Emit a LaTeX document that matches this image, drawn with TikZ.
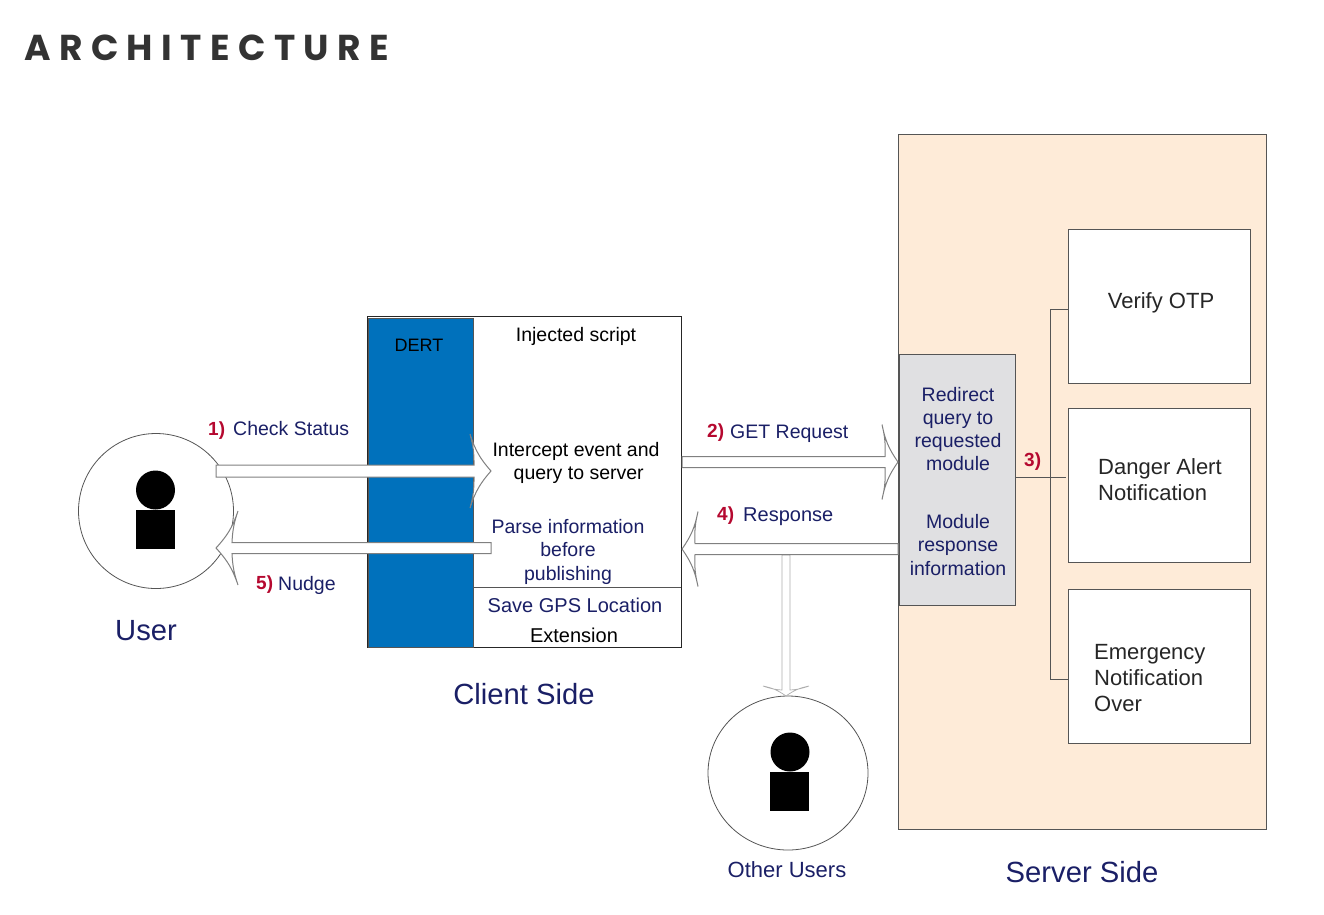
\documentclass[tikz,border=0pt]{standalone}
\usepackage{fontspec}
\setmainfont{Liberation Sans}
\newfontfamily\titlefont[LetterSpace=23.4,BoldFont=* Bold]{Poppins}
\usetikzlibrary{calc,shapes.geometric}
\definecolor{navy}{HTML}{1A1F66}
\definecolor{crimson}{HTML}{B5082F}
\definecolor{serverbg}{HTML}{FEEBD8}
\definecolor{modgray}{HTML}{E0E0E2}
\definecolor{dertblue}{HTML}{0071BC}
\definecolor{edgegray}{HTML}{555555}
\definecolor{arrowedge}{HTML}{808080}
\tikzset{
  lbl/.style={font=\fontsize{19.5}{23}\selectfont,text=navy,inner sep=0pt,align=center},
  lblk/.style={lbl,text=black},
  lblleft/.style={font=\fontsize{22}{26}\selectfont,text=black!85,inner sep=0pt,align=left},
  num/.style={font=\bfseries\fontsize{19}{22}\selectfont,text=crimson,inner sep=0pt},
  captxt/.style={font=\fontsize{29.2}{34}\selectfont,text=navy,inner sep=0pt},
  panel/.style={draw=edgegray,line width=0.8pt,inner sep=0pt,outer sep=0pt},
  person/.style={draw=edgegray,line width=0.8pt,fill=white,inner sep=0pt},
  figpart/.style={fill=black,inner sep=0pt,outer sep=0pt},
  bus/.style={draw=edgegray,line width=0.7pt},
  blockarrow/.style={draw=arrowedge,fill=white,line width=1pt,line join=miter},
}
% #1 extra options, #2 start, #3 tip, #4 half shaft, #5 shaft-end set-back, #6 barb set-back, #7 barb half width
\newcommand{\blockarr}[7][]{%
  \coordinate (sa) at ($(#2)!#4pt!90:(#3)$);
  \coordinate (sb) at ($(#2)!#4pt!-90:(#3)$);
  \coordinate (ea) at ($(#3)!#5pt!(#2)!#4pt!90:(#3)$);
  \coordinate (eb) at ($(#3)!#5pt!(#2)!#4pt!-90:(#3)$);
  \coordinate (ba) at ($(#3)!#6pt!(#2)!#7pt!90:(#3)$);
  \coordinate (bb) at ($(#3)!#6pt!(#2)!#7pt!-90:(#3)$);
  \draw[blockarrow,#1] (sa) -- (ea) to[bend right=8] (ba) to[bend right=12] (#3)
     to[bend right=12] (bb) to[bend right=8] (eb) -- (sb) -- cycle;
}
\begin{document}
\begin{tikzpicture}[x=1pt,y=-1pt]
\useasboundingbox (0,0) rectangle (1324,914);
\node[anchor=west,inner sep=0pt,text=black!80,font=\titlefont\bfseries\fontsize{36}{40}\selectfont] (title) at (24,47.5) {ARCHITECTURE};

% server
\node[panel,fill=serverbg,minimum width=368pt,minimum height=695pt] (server) at (1082,482.2) {};
\node[panel,fill=white,minimum width=182pt,minimum height=153.5pt] (otp) at (1159,306.5) {};
\node[panel,fill=white,minimum width=182pt,minimum height=153.5pt] (danger) at (1159,485.5) {};
\node[panel,fill=white,minimum width=182pt,minimum height=153.5pt] (emerg) at (1159,666.5) {};
\node[panel,fill=modgray,minimum width=116pt,minimum height=251pt] (module) at (957.5,479.5) {};
\coordinate (hub) at (1050,477);
\coordinate (hubend) at (1066,477);
\draw[bus] (module.east |- hub) -- (hubend);
\draw[bus] (otp.west |- 0,309) -- (1050,309) -- (1050,679) -- (emerg.west |- 0,679);

% client
\node[panel,fill=white,draw=black!85,line width=1pt,minimum width=314pt,minimum height=331pt] (client) at (524,482.3) {};
\node[fill=dertblue,draw=edgegray,line width=0.5pt,inner sep=0pt,minimum width=105pt,minimum height=329pt] (dert) at (421,482.3) {};
\draw[bus] (dert.east |- 0,587) -- (client.east |- 0,587);

% people
\node[person,circle,minimum size=155pt] (user) at (156,511) {};
\node[figpart,circle,minimum size=39pt] (userhead) at (155.5,490) {};
\node[figpart,minimum size=39pt] (userbody) at (155.5,529.5) {};
\node[person,ellipse,minimum width=160pt,minimum height=154pt] (other) at (788,773) {};
\node[figpart,circle,minimum size=39pt] (otherhead) at (790,752) {};
\node[figpart,minimum size=39pt] (otherbody) at (789.5,791) {};

% arrows
\coordinate (a1s) at (216,471);  \coordinate (a1t) at (491,471);
\coordinate (a5s) at (491,548);  \coordinate (a5t) at (216,548);
\coordinate (a2s) at (682,462);  \coordinate (a2t) at (898,462);
\coordinate (a4s) at (898,549);  \coordinate (a4t) at (682,549);
\coordinate (a6s) at (786,555);  \coordinate (a6t) at (786,696);
\blockarr[draw=black!32,line width=0.7pt]{a6s}{a6t}{4}{6}{10}{23}
\blockarr{a1s}{a1t}{6}{17}{21}{37}
\blockarr{a5s}{a5t}{5.5}{16}{22}{37}
\blockarr{a2s}{a2t}{5.5}{13}{16}{37.5}
\blockarr{a4s}{a4t}{5.5}{13}{16}{37.5}

% texts
\node[font=\fontsize{18}{21}\selectfont,text=black,inner sep=0pt] (tdert) at (419,345) {DERT};
\node[lblk] (tinj) at (576,336) {Injected script};
\node[lblk,font=\fontsize{19.5}{23.5}\selectfont] (tint) at (576,463) {Intercept event and\\\ query to server};
\node[lbl,font=\fontsize{19.5}{23.5}\selectfont] (tparse) at (568,551.5) {Parse information\\before\\publishing};
\node[lbl,font=\fontsize{20}{23}\selectfont] (tsave) at (575,605) {Save GPS Location};
\node[lblk,font=\fontsize{20}{23}\selectfont] (textn) at (574,635) {Extension};
\node[lbl,font=\fontsize{19.5}{23}\selectfont] (tred) at (958,429) {Redirect\\query to\\requested\\module};
\node[lbl,font=\fontsize{19.5}{23.5}\selectfont] (tmod) at (958,545) {Module\\response\\information};
\node[lblleft] (totp) at (1161,303) {Verify OTP};
\node[lblleft,anchor=west] (tdan) at (1098,480) {Danger Alert\\Notification};
\node[lblleft,anchor=west] (tem) at (1094,678) {Emergency\\Notification\\Over};
\node[num,anchor=west] (n1) at (208,431) {1)};
\node[lbl,anchor=west] (l1) at (233,429) {Check Status};
\node[num,anchor=west] (n2) at (707,433) {2)};
\node[lbl,anchor=west] (l2) at (730,434) {GET Request};
\node[num,anchor=west] (n3) at (1024,462) {3)};
\node[num,anchor=west] (n4) at (717,516) {4)};
\node[lbl,anchor=west,font=\fontsize{20}{23}\selectfont] (l4) at (743,517) {Response};
\node[num,anchor=west] (n5) at (256,585) {5)};
\node[lbl,anchor=west] (l5) at (278,585) {Nudge};
\node[captxt] (cuser) at (146,631) {User};
\node[captxt] (cclient) at (524,694) {Client Side};
\node[captxt] (cserver) at (1082,872) {Server Side};
\node[lbl,font=\fontsize{22}{24}\selectfont] (cother) at (787,870) {Other Users};
\end{tikzpicture}
\end{document}
